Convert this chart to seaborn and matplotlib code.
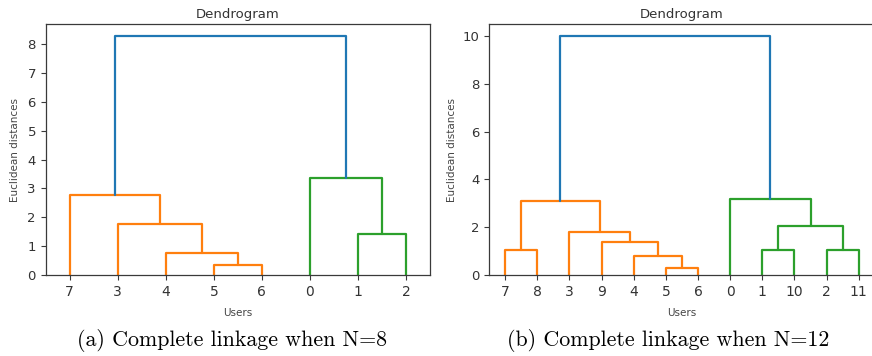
import matplotlib
matplotlib.use("Agg")
import matplotlib.pyplot as plt
import numpy as np
import pandas as pd
import seaborn as sns

# Complete-linkage merge tables (scipy style): merge k joins clusters
# left[k] and right[k] at distance dist[k]; ids >= n are earlier merges.
n_users_a = 8
link_a_left = [5, 4, 1, 3, 7, 0, 12]
link_a_right = [6, 8, 2, 9, 11, 10, 13]
link_a_dist = [0.35, 0.78, 1.41, 1.78, 2.78, 3.38, 8.29]

n_users_b = 12
link_b_left = [5, 4, 7, 1, 2, 9, 3, 15, 14, 0, 20]
link_b_right = [6, 12, 8, 10, 11, 13, 17, 16, 18, 19, 21]
link_b_dist = [0.31, 0.79, 1.05, 1.05, 1.05, 1.37, 1.78, 2.04, 3.10, 3.20, 10.0]

captions = ["(a) Complete linkage when N=8", "(b) Complete linkage when N=12"]

ABOVE = "#1f77b4"
CLUSTER_COLORS = ["#ff7f0e", "#2ca02c", "#d62728", "#9467bd"]


def dendrogram_frame(n, left, right, dist):
    """Return leaf order and a long table of U-shaped link segments."""
    root = n + len(dist) - 1
    order = []

    def walk(c):
        if c < n:
            order.append(c)
            return
        walk(left[c - n])
        walk(right[c - n])

    walk(root)
    threshold = 0.7 * max(dist)

    colour = {}
    palette_iter = iter(CLUSTER_COLORS)

    def paint(c, col):
        if c < n:
            return
        k = c - n
        if dist[k] >= threshold:
            colour[k] = ABOVE
            paint(left[k], None)
            paint(right[k], None)
        else:
            if col is None:
                col = next(palette_iter)
            colour[k] = col
            paint(left[k], col)
            paint(right[k], col)

    paint(root, None)

    xpos = {leaf: 5 + 10 * i for i, leaf in enumerate(order)}
    ypos = {leaf: 0.0 for leaf in order}
    rows = []
    for k, (a, b, d) in enumerate(zip(left, right, dist)):
        xa, ya, xb, yb = xpos[a], ypos[a], xpos[b], ypos[b]
        for x, y in [(xa, ya), (xa, d), (xb, d), (xb, yb)]:
            rows.append({"x": x, "y": y, "link": k, "colour": colour[k]})
        xpos[n + k] = (xa + xb) / 2
        ypos[n + k] = d
    return order, pd.DataFrame(rows)


sns.set_style("ticks")
plt.rcParams.update({
    "font.family": ["DejaVu Sans"],
    "axes.edgecolor": "#3a3a3a",
    "axes.linewidth": 0.9,
    "xtick.color": "#3a3a3a",
    "ytick.color": "#3a3a3a",
    "xtick.labelcolor": "#333333",
    "ytick.labelcolor": "#333333",
    "xtick.major.size": 3.5,
    "ytick.major.size": 3.5,
    "xtick.direction": "out",
    "ytick.direction": "out",
})

fig = plt.figure(figsize=(8.72, 3.56), dpi=100)
W, H = 872.0, 356.0
panels = [
    dict(n=n_users_a, left=link_a_left, right=link_a_right, dist=link_a_dist,
         rect=(45.7, 24, 430.0, 275), ylab_x=-0.068, ticks=None, cap_x=232),
    dict(n=n_users_b, left=link_b_left, right=link_b_right, dist=link_b_dist,
         rect=(489.0, 24, 874.8, 275), ylab_x=-0.084, ticks=[0, 2, 4, 6, 8, 10], cap_x=668),
]

for p, cap in zip(panels, captions):
    x0, y0, x1, y1 = p["rect"]
    ax = fig.add_axes([x0 / W, 1 - y1 / H, (x1 - x0) / W, (y1 - y0) / H])
    order, df = dendrogram_frame(p["n"], p["left"], p["right"], p["dist"])
    pal = {c: c for c in df["colour"].unique()}
    sns.lineplot(data=df, x="x", y="y", units="link", estimator=None, sort=False,
                 hue="colour", palette=pal, legend=False, linewidth=1.6, ax=ax)
    ax.set_xlim(0, 10 * p["n"])
    ax.set_ylim(0, 1.05 * max(p["dist"]))
    ax.set_xticks([5 + 10 * i for i in range(p["n"])])
    ax.set_xticklabels([str(v) for v in order], fontsize=10)
    if p["ticks"] is not None:
        ax.set_yticks(p["ticks"])
    ax.tick_params(axis="y", labelsize=9.5)
    ax.tick_params(axis="x", pad=4)
    ax.set_title("Dendrogram", fontsize=9.5, color="#333333", pad=4)
    ax.set_xlabel("Users", fontsize=7.5, color="#444444")
    ax.set_ylabel("Euclidean distances", fontsize=7.5, color="#444444")
    ax.xaxis.set_label_coords(0.5, -0.13)
    ax.yaxis.set_label_coords(p["ylab_x"], 0.5)
    fig.text(p["cap_x"] / W, 1 - 340 / H, cap, family="cmr10", fontsize=15.8,
             ha="center", va="center", color="black")

fig.savefig("out.png", dpi=100)
